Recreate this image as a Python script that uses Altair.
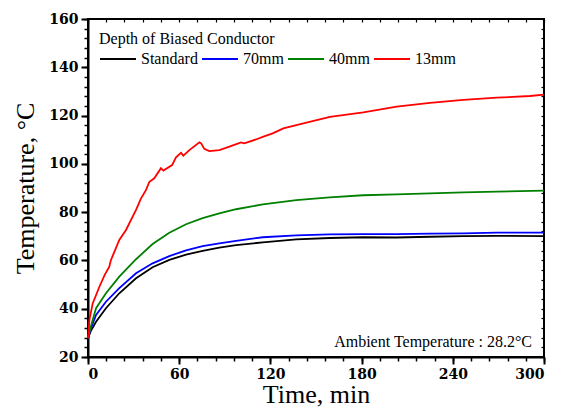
import altair as alt
import pandas as pd

# ---- data ----
series_names = ["Standard", "70mm", "40mm", "13mm"]
series_colors = ["#000000", "#0000ff", "#008000", "#ff0000"]

t_std = [0, 2, 5.3, 11.8, 20.6, 31.6, 42.5, 53.5, 64.5, 75.4, 86.4, 97.4, 115, 137, 159, 181, 203, 225, 247, 269, 300]
T_std = [27.8, 31.0, 34.6, 40.2, 46.4, 52.6, 57.2, 60.2, 62.4, 64.0, 65.3, 66.3, 67.5, 68.7, 69.3, 69.6, 69.5, 69.8, 70.1, 70.2, 70.1]

t_70 = [0, 2, 5.3, 11.8, 20.6, 31.6, 42.5, 53.5, 64.5, 75.4, 86.4, 97.4, 115, 137, 159, 181, 203, 225, 247, 269, 300]
T_70 = [27.8, 32.0, 37.4, 42.9, 48.5, 54.7, 58.8, 61.8, 64.2, 65.9, 67.1, 68.1, 69.6, 70.4, 70.8, 70.9, 70.9, 71.1, 71.2, 71.5, 71.5]

t_40 = [0, 2, 5.3, 11.8, 20.6, 31.6, 42.5, 53.5, 64.5, 75.4, 86.4, 97.4, 115, 137, 159, 181, 203, 225, 247, 269, 300]
T_40 = [27.8, 33.0, 40.2, 46.4, 53.3, 60.5, 66.8, 71.5, 75.0, 77.5, 79.5, 81.2, 83.2, 85.0, 86.1, 87.0, 87.4, 87.8, 88.2, 88.5, 88.9]

t_13 = [0, 0.9, 3.1, 7.5, 11, 14, 15, 20.6, 25, 31.6, 34.9, 38.2, 40.4, 43.6, 48, 49.6, 55.3, 57.9, 61.2,
        62.7, 66.7, 73.3, 74.4, 76.5, 79.8, 86.4, 93, 100.7, 102.8, 110.5, 115.4, 121.5, 128.5, 141.7,
        159.2, 181.1, 203.1, 225, 246.9, 268.9, 290.8, 300]
T_13 = [27.8, 35.3, 42.2, 49.1, 54.0, 57.4, 60.0, 68.5, 72.6, 80.9, 85.7, 89.2, 92.6, 94.0, 98.2, 97.2, 99.5, 102.7, 104.6,
        103.4, 105.7, 108.9, 108.5, 106.2, 105.3, 105.7, 107.1, 108.9, 108.5, 110.1, 111.3, 112.6, 114.7, 116.8,
        119.5, 121.3, 123.7, 125.3, 126.5, 127.4, 128.1, 128.7]

x_major = [0, 60, 120, 180, 240, 300]
x_minor = list(range(0, 301, 12))
y_major = [20, 40, 60, 80, 100, 120, 140, 160]
y_minor = list(range(20, 161, 4))

legend_title = "Depth of Biased Conductor"
annotation = "Ambient Temperature : 28.2°C"
x_title = "Time, min"
y_title = "Temperature, °C"

rows = []
for name, ts, Ts in zip(series_names, [t_std, t_70, t_40, t_13], [T_std, T_70, T_40, T_13]):
    for a, b in zip(ts, Ts):
        rows.append({"series": name, "time": a, "temp": b})
df = pd.DataFrame(rows)

FONT = "Liberation Serif"
LFONT = "DejaVu Serif"
xs = alt.Scale(domain=[0, 300], nice=False)
ys = alt.Scale(domain=[20, 160], nice=False)

lab = dict(labelFont=LFONT, labelFontSize=14, labelFontWeight="bold", labelColor="black",
           titleFont=FONT, titleFontSize=26, titleFontWeight="normal", titleColor="black")

lines = alt.Chart(df).mark_line(strokeWidth=1.8).encode(
    x=alt.X("time:Q", scale=xs, axis=alt.Axis(orient="bottom", values=x_major, tickSize=7, tickWidth=2,
                                              labelPadding=3, title=x_title, titlePadding=0,
                                              domainWidth=2, **lab)),
    y=alt.Y("temp:Q", scale=ys, axis=alt.Axis(orient="left", values=y_major, tickSize=7, tickWidth=2,
                                              labelPadding=3, title=y_title, titlePadding=10,
                                              domainWidth=2, **lab)),
    color=alt.Color("series:N", scale=alt.Scale(domain=series_names, range=series_colors),
                    sort=series_names,
                    legend=alt.Legend(title=legend_title, orient="none", legendX=11, legendY=12,
                                      direction="horizontal", symbolType="stroke", symbolSize=1296,
                                      symbolStrokeWidth=2, labelFont=FONT, labelFontSize=16,
                                      titleFont=FONT, titleFontSize=16, titleFontWeight="normal",
                                      labelColor="black", titleColor="black",
                                      columnPadding=0, labelOffset=4, titlePadding=-7)),
    detail="series:N",
)

minor_lb = alt.Chart(df).mark_line(opacity=0).encode(
    x=alt.X("time:Q", scale=xs, axis=alt.Axis(orient="bottom", values=x_minor, tickSize=4, tickWidth=1.5,
                                              labels=False, domain=False, title=None)),
    y=alt.Y("temp:Q", scale=ys, axis=alt.Axis(orient="left", values=y_minor, tickSize=4, tickWidth=1.5,
                                              labels=False, domain=False, title=None)),
    detail="series:N",
)

minor_tr = alt.Chart(df).mark_line(opacity=0).encode(
    x=alt.X("time:Q", scale=xs, axis=alt.Axis(orient="top", values=x_minor, tickSize=3, tickWidth=1.2,
                                              offset=-3, labels=False, domain=False, title=None)),
    y=alt.Y("temp:Q", scale=ys, axis=alt.Axis(orient="right", values=y_minor, tickSize=3, tickWidth=1.2,
                                              offset=-3, labels=False, domain=False, title=None)),
    detail="series:N",
)

note = alt.Chart(pd.DataFrame({"txt": [annotation]})).mark_text(
    align="right", baseline="alphabetic", font=FONT, fontSize=16, color="black"
).encode(x=alt.value(444), y=alt.value(328), text="txt:N")

chart = alt.layer(minor_lb, minor_tr, lines, note).resolve_axis(
    x="independent", y="independent"
).properties(
    width=456, height=338,
    autosize=alt.AutoSizeParams(type="none"),
    padding={"left": 80, "top": 11, "right": 16, "bottom": 53},
).configure_view(
    stroke="black", strokeWidth=2
).configure_axis(
    domainColor="black", tickColor="black", grid=False, **lab
)

chart.save("out.html", embed_options={"renderer": "svg", "actions": False})
